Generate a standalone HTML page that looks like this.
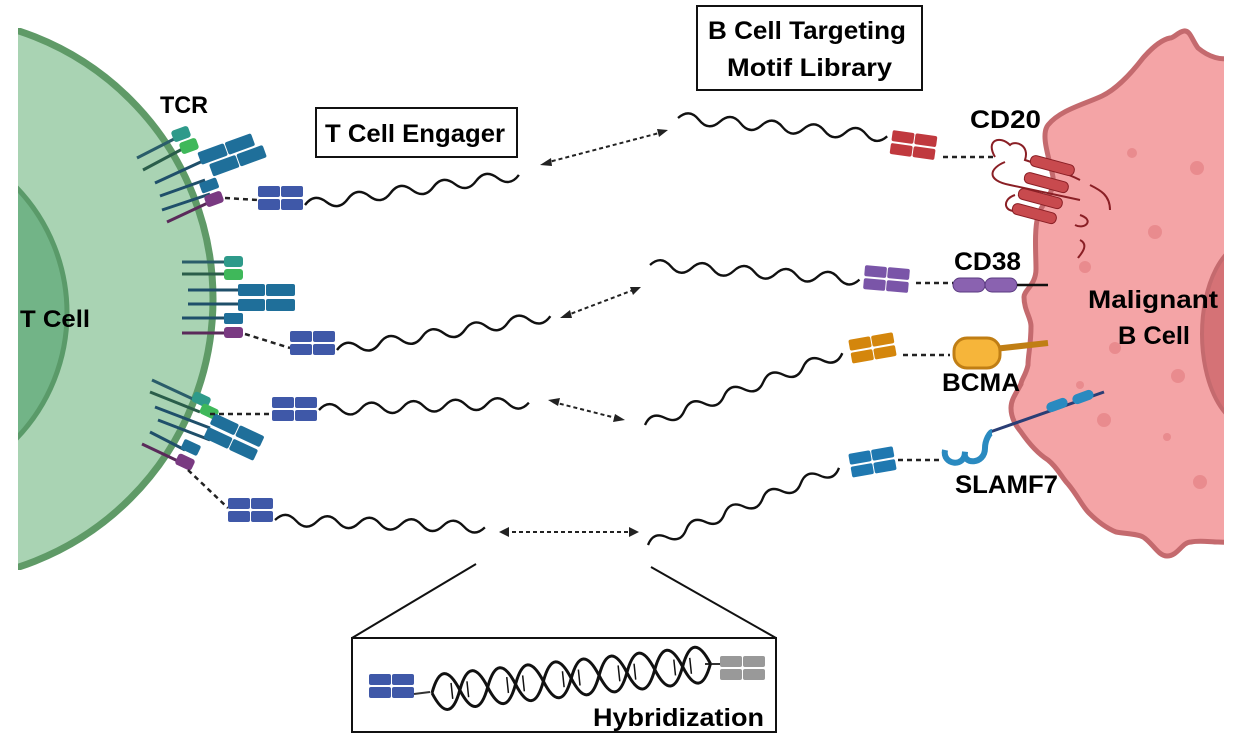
<!DOCTYPE html>
<html><head><meta charset="utf-8"><style>
html,body{margin:0;padding:0;background:#fff;width:1240px;height:752px;overflow:hidden}
svg{display:block}
text{font-family:"Liberation Sans",sans-serif;font-weight:bold;fill:#000}
</style></head><body>
<svg width="1240" height="752" viewBox="0 0 1240 752" xmlns="http://www.w3.org/2000/svg">
<defs>
<clipPath id="tc"><rect x="18" y="28" width="400" height="542"/></clipPath>
<clipPath id="bc"><rect x="900" y="0" width="324" height="752"/></clipPath>
<path id="wave" d="M0,0 q10,-10 20,0 t20,0 t20,0 t20,0 t20,0 t20,0 t20,0 t20,0 t20,0 t20,0" fill="none" stroke="#111" stroke-width="2.2"/>
<g id="fab">
<rect x="0" y="0" width="22" height="11" rx="2"/><rect x="23" y="0" width="22" height="11" rx="2"/>
<rect x="0" y="13" width="22" height="11" rx="2"/><rect x="23" y="13" width="22" height="11" rx="2"/>
</g>
</defs>

<!-- T cell -->
<g clip-path="url(#tc)">
<circle cx="-69" cy="299" r="282" fill="#a9d3b3" stroke="#5f9a67" stroke-width="7"/>
<circle cx="-114" cy="313" r="181" fill="#72b487" stroke="#5a9a69" stroke-width="5"/>
</g>
<text x="20" y="327" font-size="24" textLength="70" lengthAdjust="spacingAndGlyphs">T Cell</text>
<text x="160" y="113" font-size="24" textLength="48" lengthAdjust="spacingAndGlyphs">TCR</text>

<!-- TCR top -->
<g stroke-width="3" fill="none">
<line x1="137" y1="158" x2="178" y2="137" stroke="#2a5d6a"/>
<line x1="143" y1="170" x2="188" y2="146" stroke="#2a5d4a"/>
<line x1="155" y1="183" x2="205" y2="160" stroke="#1f4f6a"/>
<line x1="160" y1="196" x2="205" y2="180" stroke="#1f4f6a"/>
<line x1="162" y1="210" x2="210" y2="194" stroke="#1f4f6a"/>
<line x1="167" y1="222" x2="212" y2="201" stroke="#5a2a5a"/>
</g>
<rect x="172" y="128" width="18" height="12" rx="3" fill="#2e9a8a" transform="rotate(-20 181 134)"/>
<rect x="180" y="140" width="18" height="12" rx="3" fill="#3fb85a" transform="rotate(-20 189 146)"/>
<g transform="rotate(-20 225 150)" fill="#1f6f9a"><rect x="198" y="143" width="28" height="13" rx="2"/><rect x="227" y="143" width="28" height="13" rx="2"/><rect x="205" y="158" width="28" height="13" rx="2"/><rect x="234" y="158" width="28" height="13" rx="2"/></g>
<rect x="200" y="180" width="18" height="11" rx="2" fill="#1f6f9a" transform="rotate(-20 209 185)"/>
<rect x="205" y="193" width="18" height="12" rx="3" fill="#7a3a82" transform="rotate(-20 214 199)"/>
<line x1="225" y1="198" x2="258" y2="200" stroke="#222" stroke-width="2.5" stroke-dasharray="5,4"/>

<!-- TCR middle -->
<g stroke-width="3">
<line x1="182" y1="262" x2="225" y2="262" stroke="#2a5d6a"/>
<line x1="182" y1="274" x2="225" y2="274" stroke="#2a5d4a"/>
<line x1="188" y1="290" x2="240" y2="290" stroke="#1f4f6a"/>
<line x1="188" y1="304" x2="240" y2="304" stroke="#1f4f6a"/>
<line x1="182" y1="318" x2="225" y2="318" stroke="#1f4f6a"/>
<line x1="182" y1="333" x2="225" y2="333" stroke="#5a2a5a"/>
</g>
<rect x="224" y="256" width="19" height="11" rx="3" fill="#2e9a8a"/>
<rect x="224" y="269" width="19" height="11" rx="3" fill="#3fb85a"/>
<g fill="#1f6f9a"><rect x="238" y="284" width="27" height="12" rx="2"/><rect x="266" y="284" width="29" height="12" rx="2"/><rect x="238" y="299" width="27" height="12" rx="2"/><rect x="266" y="299" width="29" height="12" rx="2"/></g>
<rect x="224" y="313" width="19" height="11" rx="2" fill="#1f6f9a"/>
<rect x="224" y="327" width="19" height="11" rx="3" fill="#7a3a82"/>
<line x1="245" y1="334" x2="290" y2="348" stroke="#222" stroke-width="2.5" stroke-dasharray="5,4"/>

<!-- TCR bottom -->
<g stroke-width="3">
<line x1="152" y1="380" x2="195" y2="400" stroke="#2a5d6a"/>
<line x1="150" y1="392" x2="200" y2="412" stroke="#2a5d4a"/>
<line x1="155" y1="407" x2="210" y2="428" stroke="#1f4f6a"/>
<line x1="158" y1="420" x2="210" y2="440" stroke="#1f4f6a"/>
<line x1="150" y1="432" x2="185" y2="450" stroke="#1f4f6a"/>
<line x1="142" y1="444" x2="180" y2="462" stroke="#5a2a5a"/>
</g>
<rect x="192" y="394" width="18" height="11" rx="3" fill="#2e9a8a" transform="rotate(25 201 400)"/>
<rect x="200" y="406" width="18" height="11" rx="3" fill="#3fb85a" transform="rotate(25 209 412)"/>
<g transform="rotate(25 232 440)" fill="#1f6f9a"><rect x="205" y="423" width="27" height="12" rx="2"/><rect x="233" y="423" width="27" height="12" rx="2"/><rect x="205" y="438" width="27" height="12" rx="2"/><rect x="233" y="438" width="27" height="12" rx="2"/></g>
<rect x="182" y="442" width="18" height="11" rx="2" fill="#1f6f9a" transform="rotate(25 191 447)"/>
<rect x="176" y="456" width="18" height="12" rx="3" fill="#7a3a82" transform="rotate(25 185 462)"/>
<line x1="188" y1="470" x2="228" y2="508" stroke="#222" stroke-width="2.5" stroke-dasharray="5,4"/>
<line x1="210" y1="414" x2="270" y2="414" stroke="#222" stroke-width="2.5" stroke-dasharray="5,4"/>

<!-- Fab fragments T side -->
<use href="#fab" x="258" y="186" fill="#3f58a8"/>
<use href="#fab" x="290" y="331" fill="#3f58a8"/>
<use href="#fab" x="272" y="397" fill="#3f58a8"/>
<use href="#fab" x="228" y="498" fill="#3f58a8"/>

<!-- strands T side -->
<use href="#wave" transform="translate(305,205) rotate(-8) scale(1.08,1.1)"/>
<use href="#wave" transform="translate(337,350) rotate(-9) scale(1.08,1.1)"/>
<use href="#wave" transform="translate(319,410) rotate(-2) scale(1.05,1.1)"/>
<use href="#wave" transform="translate(275,520) rotate(2) scale(1.05,1.1)"/>

<!-- strands B side -->
<use href="#wave" transform="translate(678,118) rotate(5) scale(1.05,1.1)"/>
<use href="#wave" transform="translate(650,265) rotate(4) scale(1.05,1.1)"/>
<use href="#wave" transform="translate(645,425) rotate(-20) scale(1.05,1.1)"/>
<use href="#wave" transform="translate(648,545) rotate(-22) scale(1.03,1.1)"/>

<!-- B cell -->
<g clip-path="url(#bc)">
<path d="M1260,58 L1228,58 C1222,60 1210,58 1198,48 C1192,40 1190,30 1184,31 C1178,32 1174,38 1170,38 C1160,40 1150,50 1143,58 C1130,75 1115,90 1102,96 C1085,104 1060,110 1048,125 C1040,135 1050,160 1053,177 C1055,195 1040,205 1038,216 C1034,230 1036,255 1036,269 C1036,285 1024,290 1024,297 C1024,310 1031,318 1031,326 C1031,345 1028,355 1028,365 C1026,375 1021,380 1021,384 C1015,395 1011,400 1011,408 C1011,420 1018,428 1021,432 C1030,445 1040,455 1048,460 C1058,468 1062,478 1068,484 C1078,496 1082,506 1089,513 C1098,522 1106,528 1116,532 C1128,534 1138,534 1143,537 C1152,542 1158,556 1167,556 C1178,556 1182,542 1191,542 C1200,540 1210,542 1218,542 L1260,544 Z" fill="#f4a4a6" stroke="#c46a6e" stroke-width="5"/>
<ellipse cx="1250" cy="334" rx="48" ry="92" fill="#d57276" stroke="#c46a6e" stroke-width="4"/>
<g fill="#e98b8e"><circle cx="1132" cy="153" r="5"/><circle cx="1197" cy="168" r="7"/><circle cx="1155" cy="232" r="7"/><circle cx="1085" cy="267" r="6"/><circle cx="1115" cy="348" r="6"/><circle cx="1080" cy="385" r="4"/><circle cx="1178" cy="376" r="7"/><circle cx="1104" cy="420" r="7"/><circle cx="1167" cy="437" r="4"/><circle cx="1200" cy="482" r="7"/></g>
</g>
<text x="1088" y="308" font-size="25" textLength="130" lengthAdjust="spacingAndGlyphs">Malignant</text>
<text x="1118" y="344" font-size="25" textLength="72" lengthAdjust="spacingAndGlyphs">B Cell</text>

<!-- CD20 -->
<path d="M995,157 C985,140 1000,135 1010,145 C1015,140 1030,145 1025,160 C1040,165 1060,170 1080,180 M1005,162 C990,168 985,180 1010,185 L1080,200 M1015,195 C1000,200 1005,215 1020,210 M1090,185 C1100,190 1110,195 1110,210 M1080,215 C1095,220 1085,230 1075,225 M1080,240 C1090,245 1080,255 1078,258" fill="none" stroke="#8a1f25" stroke-width="2"/>
<g fill="#c84a4e" stroke="#8a1f25" stroke-width="1"><rect x="1030" y="160" width="45" height="11" rx="5" transform="rotate(15 1052 165)"/><rect x="1024" y="177" width="45" height="11" rx="5" transform="rotate(15 1046 182)"/><rect x="1018" y="193" width="45" height="11" rx="5" transform="rotate(15 1040 198)"/><rect x="1012" y="208" width="45" height="11" rx="5" transform="rotate(15 1034 213)"/></g>
<use href="#fab" x="891" y="133" fill="#c0393e" transform="rotate(8 913 145)"/>
<line x1="943" y1="157" x2="995" y2="157" stroke="#222" stroke-width="2.5" stroke-dasharray="5,4"/>
<text x="970" y="128" font-size="25" textLength="71" lengthAdjust="spacingAndGlyphs">CD20</text>

<!-- CD38 -->
<use href="#fab" x="864" y="267" fill="#7a55a8" transform="rotate(5 886 279)"/>
<line x1="916" y1="283" x2="953" y2="283" stroke="#222" stroke-width="2.5" stroke-dasharray="5,4"/>
<rect x="953" y="278" width="32" height="14" rx="7" fill="#8a62b0" stroke="#5a3a80"/>
<rect x="985" y="278" width="32" height="14" rx="7" fill="#8a62b0" stroke="#5a3a80"/>
<line x1="1017" y1="285" x2="1048" y2="285" stroke="#111" stroke-width="2.5"/>
<text x="954" y="270" font-size="25" textLength="67" lengthAdjust="spacingAndGlyphs">CD38</text>

<!-- BCMA -->
<use href="#fab" x="850" y="336" fill="#d4860c" transform="rotate(-10 872 348)"/>
<line x1="903" y1="355" x2="950" y2="355" stroke="#222" stroke-width="2.5" stroke-dasharray="5,4"/>
<path d="M985,350 L1048,343" stroke="#c07e14" stroke-width="6"/>
<rect x="954" y="338" width="46" height="30" rx="13" fill="#f6b53a" stroke="#c07e14" stroke-width="3"/>
<text x="942" y="391" font-size="25" textLength="78" lengthAdjust="spacingAndGlyphs">BCMA</text>

<!-- SLAMF7 -->
<use href="#fab" x="850" y="450" fill="#1f78b0" transform="rotate(-10 872 462)"/>
<line x1="898" y1="460" x2="943" y2="460" stroke="#222" stroke-width="2.5" stroke-dasharray="5,4"/>
<line x1="990" y1="432" x2="1104" y2="392" stroke="#2a3e75" stroke-width="3"/>
<rect x="1046" y="400" width="22" height="10" rx="5" fill="#2a8ac0" transform="rotate(-20 1057 405)"/>
<rect x="1072" y="392" width="22" height="10" rx="5" fill="#2a8ac0" transform="rotate(-20 1083 397)"/>
<path d="M945,450 C942,465 965,468 965,452 C962,465 985,465 985,448 C985,440 990,432 992,432" fill="none" stroke="#2a8ac0" stroke-width="6"/>
<text x="955" y="493" font-size="25" textLength="103" lengthAdjust="spacingAndGlyphs">SLAMF7</text>

<!-- arrows -->
<g stroke="#222" stroke-width="2" stroke-dasharray="4,3" fill="none">
<line x1="545" y1="163" x2="663" y2="132"/>
<line x1="565" y1="316" x2="636" y2="289"/>
<line x1="553" y1="402" x2="620" y2="419"/>
<line x1="505" y1="532" x2="633" y2="532"/>
</g>
<g fill="#222">
<path d="M540,165 l11,-7 l1,8 z"/><path d="M668,130 l-11,-1 l2,8 z"/>
<path d="M560,318 l10,-8 l2,8 z"/><path d="M641,287 l-11,0 l3,8 z"/>
<path d="M548,400 l12,-2 l-2,8 z"/><path d="M625,420 l-12,2 l2,-8 z"/>
<path d="M499,532 l10,-5 l0,10 z"/><path d="M639,532 l-10,-5 l0,10 z"/>
</g>

<!-- label boxes -->
<rect x="316" y="108" width="201" height="49" fill="#fff" stroke="#111" stroke-width="2"/>
<text x="325" y="142" font-size="25" textLength="180" lengthAdjust="spacingAndGlyphs">T Cell Engager</text>
<rect x="697" y="6" width="225" height="84" fill="#fff" stroke="#111" stroke-width="2"/>
<text x="708" y="39" font-size="25" textLength="198" lengthAdjust="spacingAndGlyphs">B Cell Targeting</text>
<text x="727" y="76" font-size="25" textLength="165" lengthAdjust="spacingAndGlyphs">Motif Library</text>

<!-- hybridization -->
<line x1="476" y1="564" x2="352" y2="638" stroke="#111" stroke-width="2"/>
<line x1="651" y1="567" x2="776" y2="638" stroke="#111" stroke-width="2"/>
<rect x="352" y="638" width="424" height="94" fill="#fff" stroke="#111" stroke-width="2"/>
<use href="#fab" x="369" y="674" fill="#3f58a8"/>
<use href="#fab" x="720" y="656" fill="#999"/>
<line x1="414" y1="694" x2="430" y2="692" stroke="#333" stroke-width="2"/>
<line x1="705" y1="664" x2="720" y2="664" stroke="#333" stroke-width="2"/>
<g transform="translate(432,693) rotate(-6)" fill="none" stroke="#111" stroke-width="3">
<path d="M0,0 q14,-36 28,0 t28,0 t28,0 t28,0 t28,0 t28,0 t28,0 t28,0 t28,0 t28,0"/>
<path d="M0,0 q14,36 28,0 t28,0 t28,0 t28,0 t28,0 t28,0 t28,0 t28,0 t28,0 t28,0"/>
<g stroke-width="1.5"><path d="M20,-8v16M36,-8v16M76,-8v16M92,-8v16M132,-8v16M148,-8v16M188,-8v16M204,-8v16M244,-8v16M260,-8v16"/></g>
</g>
<text x="593" y="726" font-size="25" textLength="171" lengthAdjust="spacingAndGlyphs">Hybridization</text>
</svg>
</body></html>
